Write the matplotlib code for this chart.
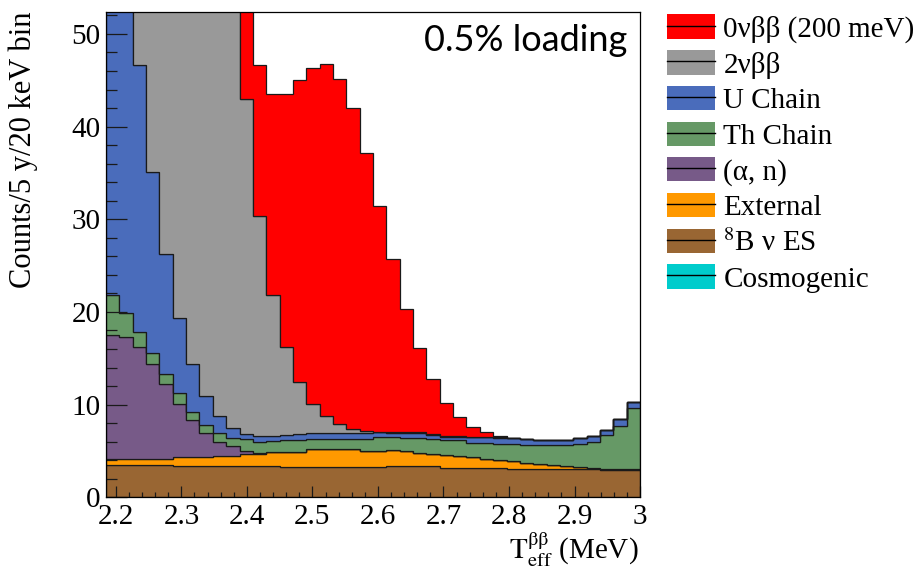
import matplotlib
matplotlib.use('Agg')
import matplotlib.pyplot as plt
from matplotlib.patches import Patch
from matplotlib.lines import Line2D
from matplotlib.ticker import MultipleLocator, FuncFormatter
import numpy as np

plt.rcParams['font.family'] = ['Liberation Serif', 'DejaVu Serif']
plt.rcParams['mathtext.fontset'] = 'stix'

# 40 bins spanning the plotted range
edges = np.linspace(2.185, 3.0, 41)

# counts per bin for each component (off-scale bins are estimates)
cosmogenic = [0] * 21 + [0.05] * 6 + [0] * 13
b8_es = [3.5] * 5 + [3.4] * 8 + [3.3] * 12 + [3.15] * 5 + [3.0] * 7 + [2.95] * 3
external = [0.6, 0.6, 0.6, 0.6, 0.6, 0.9, 0.9, 0.9, 1.1, 1.1,
            1.3, 1.3, 1.5, 1.6, 1.6, 1.9, 1.9, 1.9, 1.9, 1.7,
            1.7, 1.7, 1.6, 1.45, 1.3, 1.35, 1.25, 1.15, 0.95, 0.85,
            0.9, 0.75, 0.6, 0.5, 0.4, 0.3, 0.2, 0.15, 0.1, 0.1]
alpha_n = [13.4, 13.2, 12.1, 10.3, 8.1, 5.8, 4.0, 2.6, 1.5, 1.0,
           0.3, 0.1, 0.03, 0.03, 0.03] + [0] * 25
th_chain = [4.3, 2.6, 1.6, 1.2, 1.1, 1.1, 0.9, 0.9, 0.9, 0.95,
            1.25, 1.2, 1.1, 1.2, 1.3, 1.1, 1.1, 1.1, 1.1, 1.3,
            1.5, 1.45, 1.5, 1.65, 1.6, 1.65, 1.7, 1.6, 1.75, 1.8,
            1.85, 1.9, 2.0, 2.1, 2.2, 2.5, 2.8, 3.6, 4.65, 6.55]
u_chain = [68.0, 45.0, 28.8, 19.5, 12.9, 8.1, 5.2, 3.1, 1.9, 1.0,
           0.55, 0.6, 0.6, 0.6, 0.6, 0.6, 0.6, 0.6, 0.6, 0.6,
           0.5, 0.45, 0.5, 0.5, 0.5, 0.35, 0.4, 0.6, 0.65, 0.65,
           0.65, 0.65, 0.6, 0.6, 0.6, 0.6, 0.6, 0.6, 0.7, 0.7]
two_nu = [900, 700, 520, 380, 280, 200, 145, 105, 75, 55,
          36.2, 23.8, 15.2, 9.5, 5.6, 3.2, 1.9, 1.0, 0.5, 0.2,
          0.05, 0.05, 0.05, 0.05, 0.05, 0.05, 0.05, 0.03, 0.03, 0.03] + [0] * 10
zero_nu = [0, 0, 0, 0, 0.5, 1, 2, 3.5, 6, 9,
           14.0, 16.2, 21.7, 27.3, 32.6, 36.2, 37.9, 37.2, 34.6, 30.0,
           24.35, 18.75, 13.35, 9.15, 5.95, 3.55, 2.05, 1.1, 0.5, 0.1] + [0] * 10

RED = '#ff0000'
GRAY = '#999999'
BLUE = '#4a6cbb'
GREEN = '#669966'
PURPLE = '#775a88'
ORANGE = '#ff9900'
BROWN = '#996633'
CYAN = '#00cccc'

# bottom to top
stack = [
    (cosmogenic, CYAN),
    (b8_es, BROWN),
    (external, ORANGE),
    (alpha_n, PURPLE),
    (th_chain, GREEN),
    (u_chain, BLUE),
    (two_nu, GRAY),
    (zero_nu, RED),
]

fig = plt.figure(figsize=(9.22, 5.72), dpi=100)
ax = fig.add_axes([0.115, 0.1306, 0.5792, 0.849])

base = np.zeros(len(edges) - 1)
for vals, col in stack:
    top = base + np.array(vals, dtype=float)
    ax.stairs(top, edges, baseline=base, fill=True, facecolor=col,
              edgecolor='#1a1a1a', linewidth=0.9)
    base = top

ax.set_xlim(2.185, 3.0)
ax.set_ylim(0, 52.4)
ax.set_xticks(np.arange(2.2, 3.01, 0.1))
ax.xaxis.set_minor_locator(MultipleLocator(0.02))
ax.yaxis.set_major_locator(MultipleLocator(10))
ax.yaxis.set_minor_locator(MultipleLocator(2))
ax.xaxis.set_major_formatter(FuncFormatter(lambda v, p: f'{v:g}'))

ax.tick_params(axis='both', which='both', direction='in', top=False, right=False,
               labelsize=21, width=0.9, color='#1a1a1a')
ax.tick_params(axis='x', which='major', length=7.7, pad=5)
ax.tick_params(axis='x', which='minor', length=3.8)
ax.tick_params(axis='y', which='major', length=15, pad=4)
ax.tick_params(axis='y', which='minor', length=7.7)
for s in ax.spines.values():
    s.set_linewidth(0.9)

ax.set_ylabel('Counts/5 y/20 keV bin', fontsize=22, loc='top')
ax.yaxis.set_label_coords(-0.127, 1.0)
ax.set_xlabel(r'$\mathrm{T}_{\mathrm{eff}}^{\mathrm{ββ}}$ (MeV)', fontsize=21, loc='right')
ax.xaxis.set_label_coords(0.997, -0.068)

ax.text(0.976, 0.975, '0.5% loading', transform=ax.transAxes, ha='right', va='top',
        fontsize=26, family=['Lato', 'DejaVu Sans'])

labels = ['0νββ (200 meV)', '2νββ', 'U Chain', 'Th Chain', '(α, n)',
          'External', r'$^{8}$B ν ES', 'Cosmogenic']
colors = [RED, GRAY, BLUE, GREEN, PURPLE, ORANGE, BROWN, CYAN]
handles = [(Patch(facecolor=c, edgecolor='none'), Line2D([], [], color='black', lw=1))
           for c in colors]
fig.legend(handles, labels, loc='upper left', bbox_to_anchor=(0.7234, 0.9747),
           frameon=False, fontsize=21, handlelength=1.65, handleheight=0.9,
           handletextpad=0.28, labelspacing=0.255, borderpad=0, borderaxespad=0)

fig.savefig('out.png', dpi=100)
